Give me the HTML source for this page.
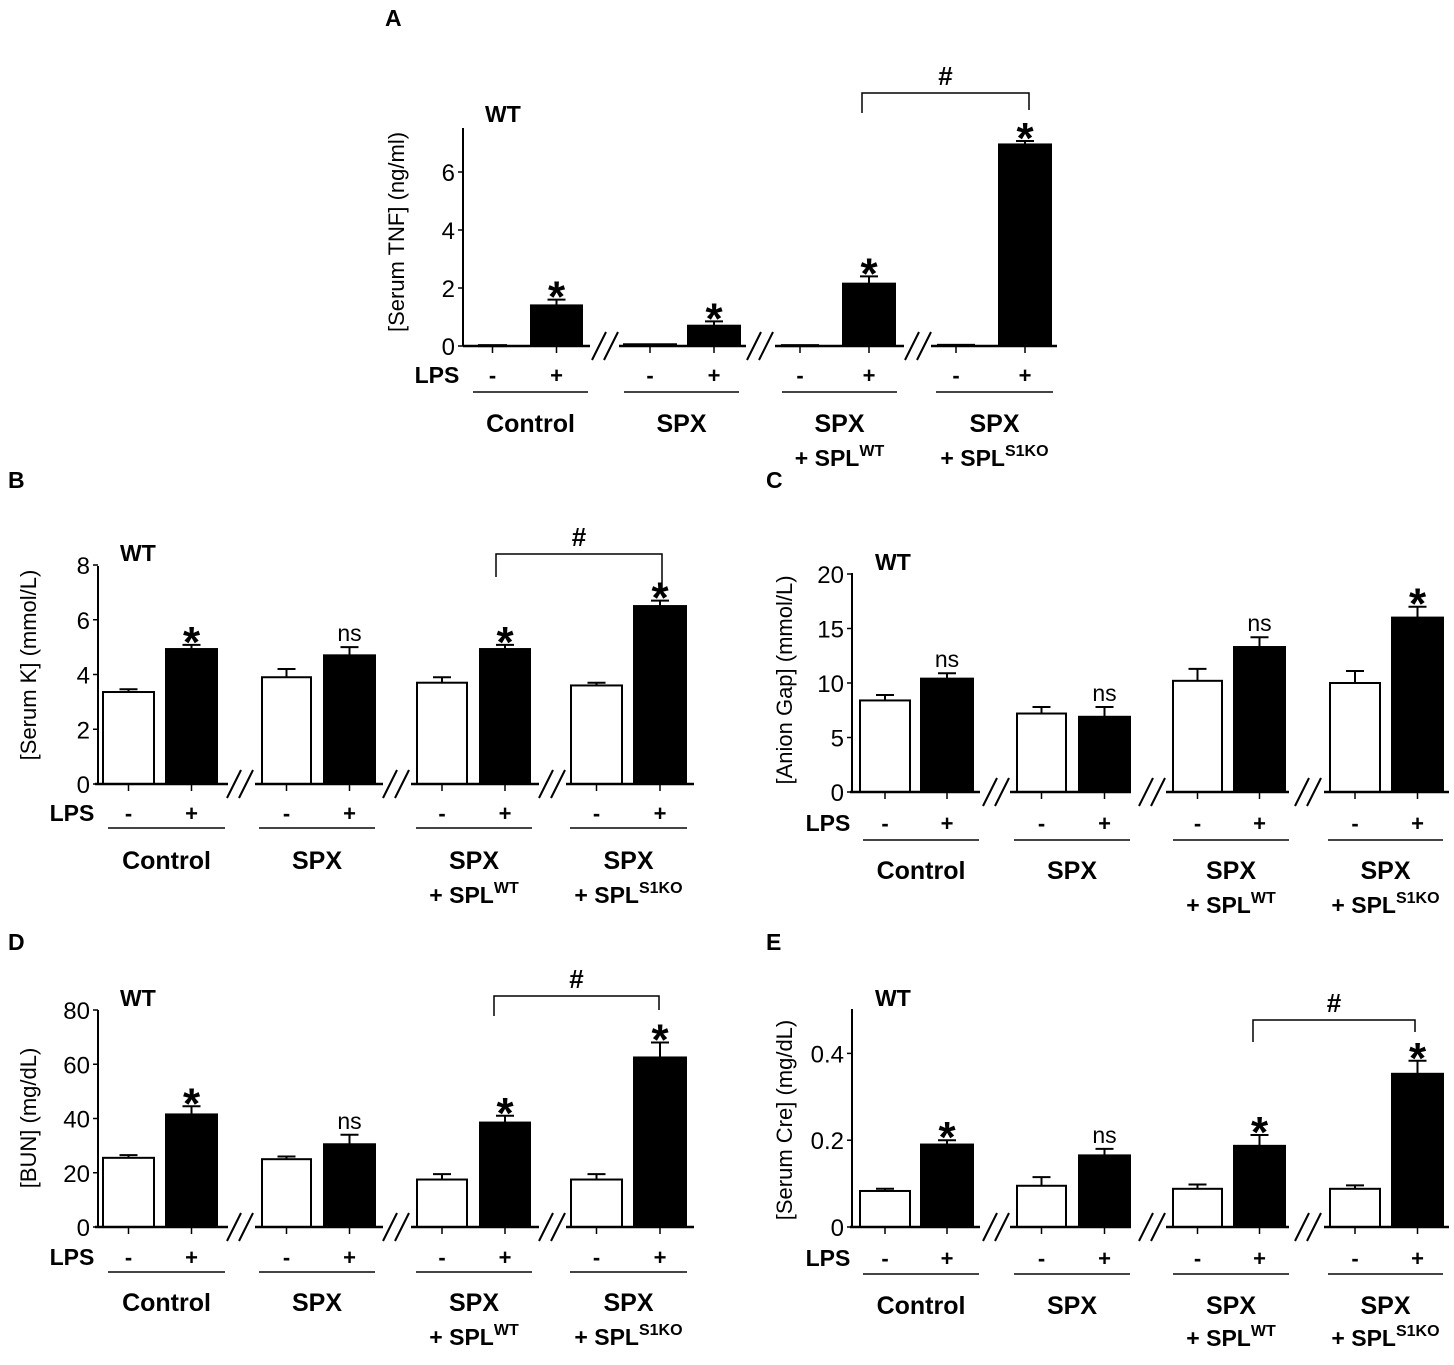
<!DOCTYPE html>
<html><head><meta charset="utf-8"><style>
html,body{margin:0;padding:0;background:#fff;}
svg{display:block;font-family:"Liberation Sans",Arial,sans-serif;}
</style></head><body>
<svg id="fig" width="1454" height="1365" viewBox="0 0 1454 1365"></svg>
<script>
// ---- data ----
const groups = ["Control","SPX","SPX|+ SPL|WT","SPX|+ SPL|S1KO"];
const lps = ["-","+","-","+","-","+","-","+"];
const tnfValues = [0.03,1.4,0.06,0.7,0.03,2.15,0.04,6.95];
const tnfErr = [0,0.2,0,0.15,0,0.25,0,0.12];
const tnfSig = ["","*","","*","","*","","*"];
const tnfTicks = [0,2,4,6];
const kValues = [3.36,4.93,3.9,4.7,3.7,4.93,3.6,6.5];
const kErr = [0.1,0.15,0.3,0.3,0.2,0.15,0.1,0.2];
const kSig = ["","*","","ns","","*","","*"];
const kTicks = [0,2,4,6,8];
const agValues = [8.4,10.4,7.2,6.9,10.2,13.3,10.0,16.0];
const agErr = [0.5,0.5,0.6,0.9,1.1,0.9,1.1,1.0];
const agSig = ["","ns","","ns","","ns","","*"];
const agTicks = [0,5,10,15,20];
const bunValues = [25.5,41.5,25,30.5,17.5,38.5,17.5,62.5];
const bunErr = [1,3,1,3.5,2,2.5,2,5.5];
const bunSig = ["","*","","ns","","*","","*"];
const bunTicks = [0,20,40,60,80];
const creValues = [0.083,0.19,0.095,0.165,0.088,0.187,0.088,0.353];
const creErr = [0.005,0.01,0.02,0.015,0.01,0.025,0.008,0.03];
const creSig = ["","*","","ns","","*","","*"];
const creTicks = [0,0.2,0.4];

// ---- layouts ----
const layA = {ax:463,
  bars:[[479,506],[531,582],[624,676],[688,740],[782,818],[843,895],[938,974],[999,1051]],
  segs:[[463,590],[619,746],[775,904],[931,1057]], breaks:[605,760,918],
  glines:[[473,588],[624,739],[782,897],[936,1053]], lpsX:437};
const layL = {ax:98,
  bars:[[103,154],[166,217],[262,311],[324,375],[417,467],[480,530],[571,622],[634,686]],
  segs:[[95,228],[255,383],[411,539],[566,694]], breaks:[240,396,552],
  glines:[[108,225],[259,375],[416,532],[570,687]], lpsX:72};
const layR = {ax:852,
  bars:[[860,910],[921,973],[1017,1066],[1079,1130],[1173,1222],[1234,1285],[1330,1380],[1392,1443]],
  segs:[[850,980],[1010,1131],[1166,1289],[1324,1449]], breaks:[996,1152,1308],
  glines:[[863,979],[1014,1130],[1173,1289],[1328,1443]], lpsX:828};

const svg = document.getElementById('fig');
const NS = 'http://www.w3.org/2000/svg';
function mk(tag, attrs, parent){
  const e = document.createElementNS(NS, tag);
  for (const k in attrs) e.setAttribute(k, attrs[k]);
  (parent||svg).appendChild(e);
  return e;
}
function txt(x,y,s,size,weight,anchor,parent){
  const t = mk('text',{x:x,y:y,'font-size':size,'font-weight':weight||'normal','text-anchor':anchor||'middle',fill:'#000'},parent);
  t.textContent = s;
  return t;
}

function panel(id, lay, P, values, errs, sigs, ticks, fmt){
  const g = mk('g',{});
  
  
  const yS = v => P.y0 - (v/P.max)*(P.y0-P.ytop);
  const L = txt(P.letterX, P.letterY, id, 23, 'bold', 'start', g);
  
  
  const yt = txt(0,0,P.title,22,'normal','middle',g);
  yt.setAttribute('transform','translate('+P.titleX+','+P.titleY+') rotate(-90)');
  
  
  const wt = txt(P.wtX, P.wtY, 'WT', 23, 'bold', 'start', g);
  
  
  const ya = mk('line',{x1:lay.ax,y1:P.axTop,x2:lay.ax,y2:P.y0,stroke:'#000','stroke-width':2},g);
  
  
  ticks.forEach(t=>{
    const y = yS(t);
    mk('line',{x1:lay.ax-5,y1:y,x2:lay.ax,y2:y,stroke:'#000','stroke-width':1.5},g);
    const tl = txt(lay.ax-8, y+9, fmt?fmt(t):String(t), 24, 'normal', 'end', g);
    
    
  });
  values.forEach((v,i)=>{
    const [x1,x2] = lay.bars[i];
    const yt2 = yS(v);
    const black = i%2===1;
    const cx = (x1+x2)/2;
    if (errs[i]>0){
      const ye = yS(v+errs[i]);
      mk('line',{x1:cx,y1:yt2,x2:cx,y2:ye,stroke:'#000','stroke-width':2},g);
      mk('line',{x1:cx-9,y1:ye,x2:cx+9,y2:ye,stroke:'#000','stroke-width':2},g);
    }
    const r = mk('rect',{x:x1,y:yt2,width:x2-x1,height:Math.max(P.y0-yt2,1),fill:black?'#000':'#fff',stroke:'#000','stroke-width':2},g);
    
    
    if (sigs[i]){
      const ye = yS(v+errs[i]);
      if (sigs[i]==='*'){
        const s = txt(cx, ye+12, '*', 44, 'bold', 'middle', g);
        
        
      } else {
        const s = txt(cx, ye-6, 'ns', 23, 'normal', 'middle', g);
        
        
      }
    }
    mk('line',{x1:cx,y1:P.y0,x2:cx,y2:P.y0+7,stroke:'#000','stroke-width':1.5},g);
    const lp = txt(cx, P.lpsY, lps[i], 22, 'bold', 'middle', g);
    
    
  });
  lay.segs.forEach(s=>{
    const b = mk('line',{x1:s[0],y1:P.y0,x2:s[1],y2:P.y0,stroke:'#000','stroke-width':2.5},g);
    
    
  });
  lay.breaks.forEach(bx=>{
    [-6,6].forEach(d=>{
      mk('line',{x1:bx+d-7,y1:P.y0+14,x2:bx+d+7,y2:P.y0-14,stroke:'#000','stroke-width':2},g);
    });
  });
  const lt = txt(lay.lpsX, P.lpsY, 'LPS', 23, 'bold', 'middle', g);
  
  
  groups.forEach((gn,k)=>{
    const [a,b] = lay.glines[k];
    mk('line',{x1:a,y1:P.gY,x2:b,y2:P.gY,stroke:'#444','stroke-width':2},g);
    const parts = gn.split('|');
    const cx = (a+b)/2;
    const t1 = txt(cx, P.labY+9, parts[0], 25, 'bold', 'middle', g);
    
    
    if (parts.length>1){
      const t2 = mk('text',{x:cx,y:P.lab2Y+8,'font-size':23,'font-weight':'bold','text-anchor':'middle'},g);
      
      
      t2.appendChild(document.createTextNode(parts[1]));
      const sp = mk('tspan',{'font-size':16,dy:-10},t2);
      sp.textContent = parts[2];
    }
  });
  if (P.br){
    const [bx1,bx2,by,bl,brr] = P.br;
    mk('path',{d:'M'+bx1+' '+bl+' L'+bx1+' '+by+' L'+bx2+' '+by+' L'+bx2+' '+brr,fill:'none',stroke:'#000','stroke-width':1.5},g);
    const h = txt((bx1+bx2)/2, by-8, '#', 26, 'bold', 'middle', g);
    
    
  }
}

panel('A', layA, {y0:346, ytop:346-29*7.5, max:7.5, axTop:128, title:'[Serum TNF]  (ng/ml)', titleX:404, titleY:232,
  wtX:485, wtY:122, letterX:385, letterY:26, lpsY:383, gY:392, labY:423, lab2Y:458, br:[862,1029,93,113,110]},
  tnfValues, tnfErr, tnfSig, tnfTicks);
panel('B', layL, {y0:784, ytop:565, max:8, axTop:566, title:'[Serum K] (mmol/L)', titleX:36, titleY:665,
  wtX:120, wtY:561, letterX:8, letterY:488, lpsY:821, gY:828, labY:860, lab2Y:895, br:[496,662,554,577,590]},
  kValues, kErr, kSig, kTicks);
panel('C', layR, {y0:792, ytop:574, max:20, axTop:573, title:'[Anion Gap] (mmol/L)', titleX:792, titleY:680,
  wtX:875, wtY:570, letterX:766, letterY:488, lpsY:831, gY:840, labY:870, lab2Y:905, br:null},
  agValues, agErr, agSig, agTicks);
panel('D', layL, {y0:1227, ytop:1010, max:80, axTop:1010, title:'[BUN] (mg/dL)', titleX:36, titleY:1118,
  wtX:120, wtY:1006, letterX:8, letterY:950, lpsY:1265, gY:1272, labY:1302, lab2Y:1337, br:[494,659,996,1016,1010]},
  bunValues, bunErr, bunSig, bunTicks);
panel('E', layR, {y0:1227, ytop:1227-434*0.5, max:0.5, axTop:1009, title:'[Serum Cre]  (mg/dL)', titleX:792, titleY:1120,
  wtX:875, wtY:1006, letterX:766, letterY:950, lpsY:1266, gY:1274, labY:1305, lab2Y:1338, br:[1253,1415,1020,1042,1032]},
  creValues, creErr, creSig, creTicks, t=>t===0?'0':t.toFixed(1));
</script>
</body></html>
